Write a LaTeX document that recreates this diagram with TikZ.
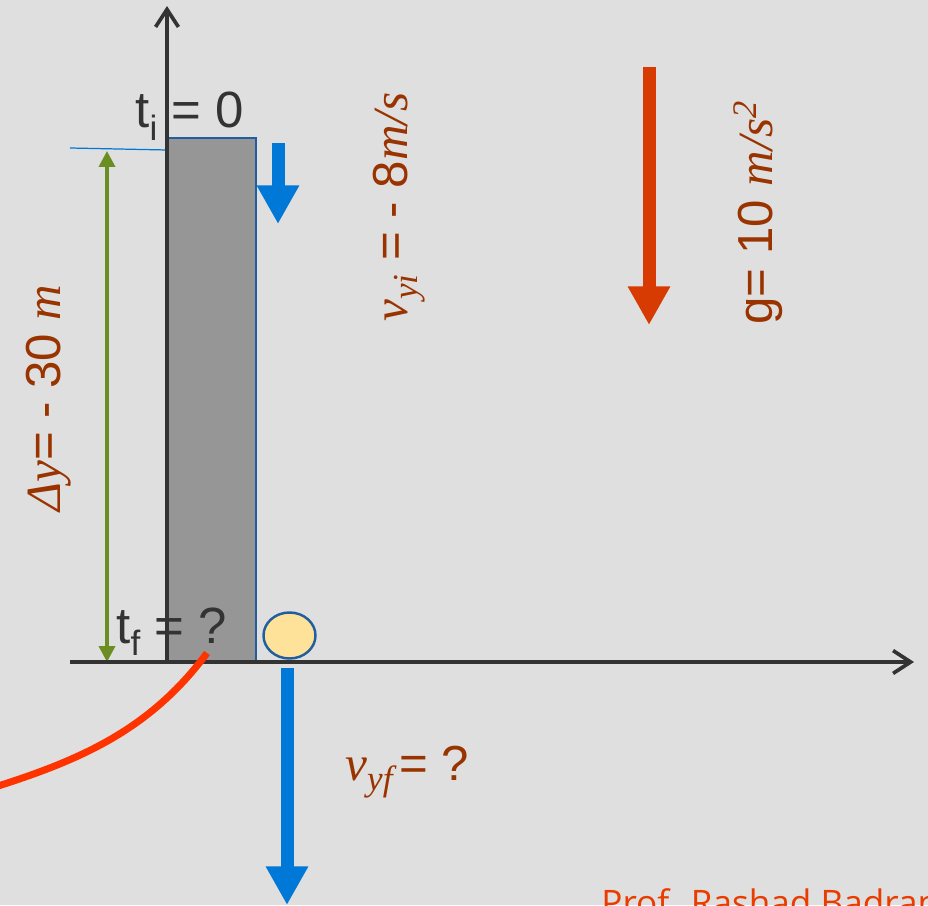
\documentclass[tikz,border=0pt]{standalone}
\usepackage{fontspec}
\setmainfont{Liberation Sans}
\newfontfamily\timesfont{Liberation Serif}
\newfontfamily\creditfont{Open Sans}
\usetikzlibrary{arrows.meta}
\definecolor{bgfill}{RGB}{223,223,223}
\definecolor{axisgray}{RGB}{51,51,51}
\definecolor{wallgray}{RGB}{150,150,150}
\definecolor{edgeblue}{RGB}{31,95,160}
\definecolor{velblue}{RGB}{0,120,215}
\definecolor{gravred}{RGB}{216,59,1}
\definecolor{pathred}{RGB}{255,51,0}
\definecolor{labelbrown}{RGB}{153,51,0}
\definecolor{heightgreen}{RGB}{107,142,35}
\definecolor{ballyellow}{RGB}{255,226,154}
\definecolor{creditred}{RGB}{235,60,0}
\newcommand{\ital}[1]{{\timesfont\itshape #1}}
\newcommand{\lowsub}[1]{\raisebox{-0.45ex}{\fontsize{20}{20}\selectfont #1}}

\begin{document}
\begin{tikzpicture}[x=0.02cm, y=-0.02cm,
	axisline/.style={draw=axisgray, line width=2.1pt, -{Straight Barb[length=10pt,width=13pt]}},
	blockarrow/.style={line width=7.4pt, -{Triangle[length=22pt,width=22.7pt]}},
	biglabel/.style={font=\fontsize{28}{34}\selectfont, text=labelbrown, inner sep=0pt},
	timelabel/.style={font=\fontsize{29}{34}\selectfont, text=axisgray, inner sep=0pt}]
		\useasboundingbox (0,0) rectangle (928,905);
		\fill[bgfill] (0,0) rectangle (928,905);
		\clip (0,0) rectangle (928,905);
		
		\coordinate (origin) at (167,662);
		\coordinate (yTop) at (167,6);
		\coordinate (xStart) at (70,662);
		\coordinate (xEnd) at (914,662);
		\coordinate (roofMark) at (70,148);
		\coordinate (roofLeft) at (167,150);
		\coordinate (hTop) at (107,151);
		\coordinate (hBot) at (107,662);
		
		\filldraw[fill=wallgray, draw=edgeblue, line width=1.3pt] (168,138) rectangle (256,662);
		\draw[velblue, line width=0.7pt] (roofMark) -- (roofLeft);
		\draw[heightgreen, line width=2pt, {Triangle[length=9pt,width=9pt]}-{Triangle[length=9pt,width=9pt]}] (hTop) -- (hBot);
		\draw[axisline] (origin) -- (yTop);
		\draw[axisline] (xStart) -- (xEnd);
		
		\filldraw[fill=ballyellow, draw=edgeblue, line width=1.4pt] (289.5,635.5) ellipse [x radius=26, y radius=23];
		
		\coordinate (vTop) at (278,143);
		\coordinate (vTip) at (278,224);
		\coordinate (wTop) at (287,668);
		\coordinate (wTip) at (287,905);
		\coordinate (gTop) at (649,67);
		\coordinate (gTip) at (649,325);
		\draw[blockarrow, velblue] (vTop) -- (vTip);
		\draw[blockarrow, velblue] (wTop) -- (wTip);
		\draw[blockarrow, gravred] (gTop) -- (gTip);
		
		\coordinate (curveStart) at (207,653);
		\coordinate (curveEnd) at (-5,787);
		\draw[pathred, line width=4pt] (curveStart) .. controls (150,730) and (80,760) .. (curveEnd);
		
		\node[timelabel, anchor=base west] (tinit) at (135,128) {t\lowsub{i} = 0};
		\node[timelabel, anchor=base west] (tfinal) at (116,643) {t\lowsub{f} = ?};
		\node[biglabel, rotate=90, anchor=base west] (vinit) at (407,322) {\ital{v\lowsub{yi}} = - 8\ital{m/s}};
		\node[biglabel, rotate=90, anchor=base west] (grav) at (772,325) {g= 10 \ital{m/s\textsuperscript{2}}};
		\node[biglabel, rotate=90, anchor=base west] (dely) at (60,512) {\ital{Δy}= - 30 \ital{m}};
		\node[biglabel, anchor=base west] (vfinal) at (345,780) {\ital{v\lowsub{yf}}\hspace{4pt}= ?};
		\node[anchor=base west, inner sep=0pt, text=creditred, font=\creditfont\fontsize{20}{24}\selectfont] (credit) at (601,915) {Prof. Rashad Badran};
	\end{tikzpicture}
\end{document}
